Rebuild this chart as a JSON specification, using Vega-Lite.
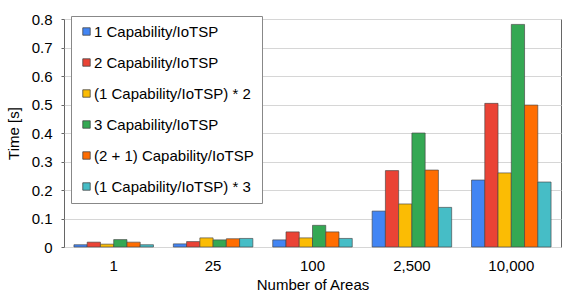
{
  "$schema": "https://vega.github.io/schema/vega-lite/v6.json",
  "autosize": "none",
  "width": 497,
  "height": 228,
  "padding": {"left": 64, "top": 19, "right": 13, "bottom": 46},
  "background": "white",
  "config": {
    "font": "Liberation Sans",
    "view": {"stroke": "#666666", "strokeWidth": 1},
    "axis": {"labelFont": "Liberation Sans", "titleFont": "Liberation Sans", "labelColor": "#000", "titleColor": "#000", "titleFontWeight": "normal"}
  },
  "data": {
    "values": [
      {"areas": "1", "series": "1 Capability/IoTSP", "time": 0.008},
      {"areas": "1", "series": "2 Capability/IoTSP", "time": 0.017},
      {"areas": "1", "series": "(1 Capability/IoTSP) * 2", "time": 0.010},
      {"areas": "1", "series": "3 Capability/IoTSP", "time": 0.026},
      {"areas": "1", "series": "(2 + 1) Capability/IoTSP", "time": 0.017},
      {"areas": "1", "series": "(1 Capability/IoTSP) * 3", "time": 0.008},
      {"areas": "25", "series": "1 Capability/IoTSP", "time": 0.011},
      {"areas": "25", "series": "2 Capability/IoTSP", "time": 0.019},
      {"areas": "25", "series": "(1 Capability/IoTSP) * 2", "time": 0.032},
      {"areas": "25", "series": "3 Capability/IoTSP", "time": 0.025},
      {"areas": "25", "series": "(2 + 1) Capability/IoTSP", "time": 0.029},
      {"areas": "25", "series": "(1 Capability/IoTSP) * 3", "time": 0.030},
      {"areas": "100", "series": "1 Capability/IoTSP", "time": 0.025},
      {"areas": "100", "series": "2 Capability/IoTSP", "time": 0.053},
      {"areas": "100", "series": "(1 Capability/IoTSP) * 2", "time": 0.032},
      {"areas": "100", "series": "3 Capability/IoTSP", "time": 0.076},
      {"areas": "100", "series": "(2 + 1) Capability/IoTSP", "time": 0.053},
      {"areas": "100", "series": "(1 Capability/IoTSP) * 3", "time": 0.030},
      {"areas": "2,500", "series": "1 Capability/IoTSP", "time": 0.126},
      {"areas": "2,500", "series": "2 Capability/IoTSP", "time": 0.268},
      {"areas": "2,500", "series": "(1 Capability/IoTSP) * 2", "time": 0.151},
      {"areas": "2,500", "series": "3 Capability/IoTSP", "time": 0.400},
      {"areas": "2,500", "series": "(2 + 1) Capability/IoTSP", "time": 0.270},
      {"areas": "2,500", "series": "(1 Capability/IoTSP) * 3", "time": 0.139},
      {"areas": "10,000", "series": "1 Capability/IoTSP", "time": 0.235},
      {"areas": "10,000", "series": "2 Capability/IoTSP", "time": 0.504},
      {"areas": "10,000", "series": "(1 Capability/IoTSP) * 2", "time": 0.260},
      {"areas": "10,000", "series": "3 Capability/IoTSP", "time": 0.781},
      {"areas": "10,000", "series": "(2 + 1) Capability/IoTSP", "time": 0.498},
      {"areas": "10,000", "series": "(1 Capability/IoTSP) * 3", "time": 0.228}
    ]
  },
  "mark": {"type": "bar", "stroke": "#444444", "strokeWidth": 0.8, "strokeOpacity": 0.8},
  "encoding": {
    "x": {
      "field": "areas", "type": "nominal", "sort": ["1", "25", "100", "2,500", "10,000"],
      "scale": {"paddingInner": 0.2, "paddingOuter": 0.1},
      "axis": {"title": "Number of Areas", "labelAngle": 0, "labelFontSize": 15, "titleFontSize": 15, "ticks": false, "domain": false, "labelPadding": 11, "titlePadding": 4}
    },
    "xOffset": {
      "field": "series", "type": "nominal",
      "sort": ["1 Capability/IoTSP", "2 Capability/IoTSP", "(1 Capability/IoTSP) * 2", "3 Capability/IoTSP", "(2 + 1) Capability/IoTSP", "(1 Capability/IoTSP) * 3"],
      "scale": {"paddingInner": 0, "paddingOuter": 0}
    },
    "y": {
      "field": "time", "type": "quantitative",
      "scale": {"domain": [0, 0.8]},
      "axis": {"title": "Time [s]", "values": [0, 0.1, 0.2, 0.3, 0.4, 0.5, 0.6, 0.7, 0.8], "format": "~g", "labelOverlap": false, "labelFontSize": 15, "titleFontSize": 15, "gridColor": "#d6d6d6", "tickSize": 3, "tickColor": "#666666", "domain": false, "labelPadding": 9, "titlePadding": 10}
    },
    "color": {
      "field": "series", "type": "nominal",
      "sort": ["1 Capability/IoTSP", "2 Capability/IoTSP", "(1 Capability/IoTSP) * 2", "3 Capability/IoTSP", "(2 + 1) Capability/IoTSP", "(1 Capability/IoTSP) * 3"],
      "scale": {
        "domain": ["1 Capability/IoTSP", "2 Capability/IoTSP", "(1 Capability/IoTSP) * 2", "3 Capability/IoTSP", "(2 + 1) Capability/IoTSP", "(1 Capability/IoTSP) * 3"],
        "range": ["#4285F4", "#EA4335", "#FBBC04", "#34A853", "#FF6D01", "#46BDC6"]
      },
      "legend": {
        "title": null, "orient": "none", "legendX": 7, "legendY": -3,
        "symbolType": "square", "symbolSize": 55, "symbolStrokeColor": "#444", "symbolStrokeWidth": 0.8,
        "labelFontSize": 15, "labelFont": "Liberation Sans", "labelColor": "#000", "labelLimit": 300,
        "rowPadding": 15, "padding": 8, "strokeColor": "#888888", "fillColor": "white",
        "labelOffset": 0
      }
    }
  }
}
